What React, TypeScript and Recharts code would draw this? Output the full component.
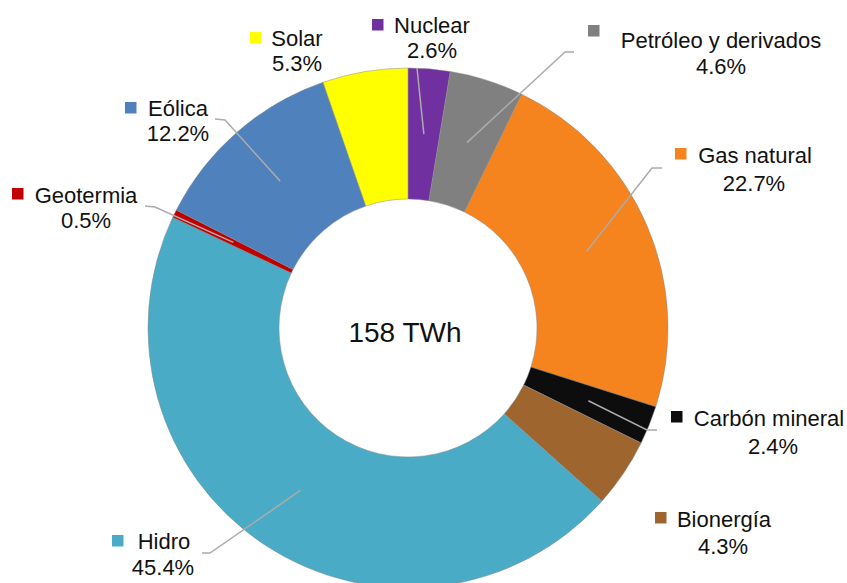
import React from 'react';
import { PieChart, Pie, Cell } from 'recharts';

const CATEGORIES = [
  'Nuclear',
  'Petróleo y derivados',
  'Gas natural',
  'Carbón mineral',
  'Bionergía',
  'Hidro',
  'Geotermia',
  'Eólica',
  'Solar',
];
const SHARES = [2.6, 4.6, 22.7, 2.4, 4.3, 45.4, 0.5, 12.2, 5.3];
const COLORS = ['#7030A0', '#808080', '#F5841F', '#0D0D0D', '#9E652F', '#4AABC6', '#C00000', '#4F81BD', '#FFFF00'];
const TOTAL_LABEL = '158 TWh';

// label layout: offsets from the pie centre
type Pt = [number, number];
const LABEL_LAYOUT: Record<string, { name: Pt; pct: Pt; sq: Pt; line: Pt[] }> = {
  'Nuclear': { name: [24, -303], pct: [24, -278], sq: [-36, -309], line: [[9, -260]] },
  'Petróleo y derivados': { name: [313, -288], pct: [313, -262], sq: [180, -303], line: [[157, -276], [166, -276]] },
  'Gas natural': { name: [347, -173], pct: [346, -145], sq: [267, -180], line: [[244, -160], [254, -160]] },
  'Carbón mineral': { name: [361, 90], pct: [365, 118], sq: [263, 83], line: [[239, 102], [249, 102]] },
  'Bionergía': { name: [316, 191], pct: [315, 218], sq: [247, 184], line: [] },
  'Hidro': { name: [-244, 213], pct: [-245, 239], sq: [-296, 207], line: [[-198, 225], [-206, 225]] },
  'Geotermia': { name: [-322, -133], pct: [-322, -108], sq: [-396, -140], line: [[-253, -121], [-263, -122]] },
  'Eólica': { name: [-230, -220], pct: [-230, -195], sq: [-283, -226], line: [[-183, -208], [-193, -209]] },
  'Solar': { name: [-111, -290], pct: [-111, -265], sq: [-158, -296], line: [] },
};

const data = CATEGORIES.map((name, i) => ({ name, value: SHARES[i], color: COLORS[i] }));

const FONT = '"Liberation Sans", Arial, sans-serif';
const RADIAN = Math.PI / 180;

const renderLabel = (props: any) => {
  const { cx, cy, midAngle, innerRadius, outerRadius, name, value, index } = props;
  const lay = LABEL_LAYOUT[name];
  if (!lay) return null;
  const r = (innerRadius + outerRadius) / 2;
  const sx = cx + r * Math.cos(-midAngle * RADIAN);
  const sy = cy + r * Math.sin(-midAngle * RADIAN);
  const pts = [[sx, sy], ...lay.line.map(([dx, dy]) => [cx + dx, cy + dy])];
  const fs = 22;
  return (
    <g key={`lbl-${index}`}>
      {lay.line.length > 0 && (
        <polyline
          points={pts.map((p) => p.join(',')).join(' ')}
          fill="none"
          stroke="#ABABAB"
          strokeWidth={1.5}
        />
      )}
      <rect x={cx + lay.sq[0]} y={cy + lay.sq[1]} width={11.5} height={11.5} fill={COLORS[index]} />
      <text x={cx + lay.name[0]} y={cy + lay.name[1] + 8} textAnchor="middle" fontSize={fs} fontFamily={FONT} fill="#111">
        {name}
      </text>
      <text x={cx + lay.pct[0]} y={cy + lay.pct[1] + 8} textAnchor="middle" fontSize={fs} fontFamily={FONT} fill="#111">
        {`${Number(value).toFixed(1)}%`}
      </text>
    </g>
  );
};

export default function App() {
  return (
    <div style={{ position: 'fixed', left: 0, top: 0, width: 847, height: 583, background: '#fff' }}>
      <PieChart width={847} height={583} margin={{ top: 0, right: 0, bottom: 0, left: 0 }}>
        <Pie
          data={data}
          dataKey="value"
          nameKey="name"
          cx={408}
          cy={328}
          innerRadius={129}
          outerRadius={260}
          startAngle={90}
          endAngle={-270}
          stroke="#8a8a8a"
          strokeWidth={0.5}
          label={renderLabel}
          labelLine={false}
          isAnimationActive={false}
        >
          {data.map((d, i) => (
            <Cell key={i} fill={d.color} />
          ))}
        </Pie>
        <text x={405} y={332 + 10} textAnchor="middle" fontSize={28} fontFamily={FONT} fill="#111">
          {TOTAL_LABEL}
        </text>
      </PieChart>
    </div>
  );
}
